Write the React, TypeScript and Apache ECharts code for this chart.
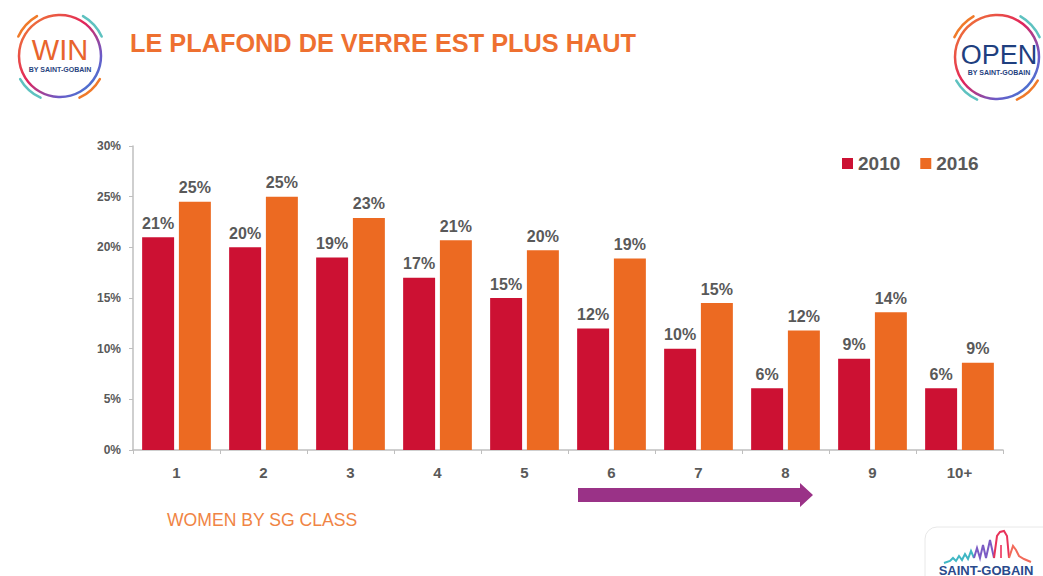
import React, { useEffect, useRef } from "react";
import * as echarts from "echarts";

const categories = ["1", "2", "3", "4", "5", "6", "7", "8", "9", "10+"];
const values2010 = [21, 20, 19, 17, 15, 12, 10, 6.1, 9, 6.1];
const values2016 = [24.5, 25, 22.9, 20.7, 19.7, 18.9, 14.5, 11.8, 13.6, 8.6];
const seriesNames = ["2010", "2016"];
const title = "LE PLAFOND DE VERRE EST PLUS HAUT";
const subtitle = "WOMEN BY SG CLASS";

const FONT = "'Liberation Sans', Arial, sans-serif";
const RED = "#CC1133";
const ORANGE = "#EC6A22";
const GRAY = "#595959";

function ringLogo(cx: number, cy: number, r: number) {
  const grad = new echarts.graphic.LinearGradient(0, 0, 1, 1, [
    { offset: 0, color: "#F28A2E" },
    { offset: 0.45, color: "#E2235A" },
    { offset: 0.75, color: "#6A5BC8" },
    { offset: 1, color: "#2C8AD8" },
  ]);
  const R = r + 5;
  const deg = Math.PI / 180;
  const outer = (a0: number, a1: number, color: string) => ({
    type: "arc",
    shape: { cx, cy, r: R, startAngle: a0 * deg, endAngle: a1 * deg, clockwise: true },
    style: { stroke: color, lineWidth: 2.5, fill: null, lineCap: "round" },
  });
  return [
    {
      type: "circle",
      shape: { cx, cy, r },
      style: { stroke: grad, lineWidth: 2.5, fill: null },
    },
    outer(205, 240, "#F07A2A"),
    outer(300, 335, "#5EC2C0"),
    outer(115, 150, "#5EC2C0"),
    outer(30, 65, "#F07A2A"),
  ];
}

export default function App() {
  const ref = useRef<HTMLDivElement>(null);
  useEffect(() => {
    if (!ref.current) return;
    const chart = echarts.init(ref.current, null, { renderer: "svg" });
    const labelCfg = {
      show: true,
      position: "top",
      distance: 6,
      color: GRAY,
      fontSize: 16,
      fontWeight: "bold",
      fontFamily: FONT,
      formatter: (p: any) => Math.round(p.value) + "%",
    };
    chart.setOption({
      animation: false,
      backgroundColor: "#ffffff",
      textStyle: { fontFamily: FONT },
      grid: { left: 133, right: 40, top: 146, bottom: 126, containLabel: false },
      legend: {
        data: seriesNames,
        left: 842,
        top: 154,
        padding: 0,
        icon: "rect",
        itemWidth: 11,
        itemHeight: 11,
        itemGap: 20,
        textStyle: { color: GRAY, fontSize: 19, fontWeight: "bold", fontFamily: FONT },
      },
      xAxis: {
        type: "category",
        data: categories,
        axisLine: { show: true, lineStyle: { color: "#BFBFBF", width: 1.5 } },
        axisTick: { show: true, interval: 0, length: 4, lineStyle: { color: "#BFBFBF" } },
        axisLabel: { color: GRAY, fontSize: 15, fontWeight: "bold", fontFamily: FONT, margin: 15, interval: 0 },
      },
      yAxis: {
        type: "value",
        min: 0,
        max: 30,
        interval: 5,
        axisLine: { show: true, lineStyle: { color: "#BFBFBF", width: 1.5 } },
        axisTick: { show: true, length: 4, lineStyle: { color: "#BFBFBF" } },
        splitLine: { show: false },
        axisLabel: { color: GRAY, fontSize: 12, fontWeight: "bold", fontFamily: FONT, margin: 12, formatter: "{value}%" },
      },
      series: [
        {
          name: seriesNames[0],
          type: "bar",
          data: values2010,
          barGap: "15%",
          barCategoryGap: "21%",
          itemStyle: { color: RED },
          label: labelCfg,
        },
        {
          name: seriesNames[1],
          type: "bar",
          data: values2016,
          barGap: "15%",
          barCategoryGap: "21%",
          itemStyle: { color: ORANGE },
          label: labelCfg,
        },
      ],
      graphic: [
        {
          type: "text",
          left: 130,
          top: 30,
          style: { text: title, fill: "#EE7030", font: `bold 25.3px ${FONT}` },
        },
        {
          type: "text",
          left: 167,
          top: 511,
          style: { text: subtitle, fill: "#F08444", font: `17.6px ${FONT}` },
        },
        {
          type: "polygon",
          shape: {
            points: [
              [578, 488],
              [800, 488],
              [800, 483],
              [813, 495],
              [800, 507],
              [800, 502],
              [578, 502],
            ],
          },
          style: { fill: "#9A3287" },
        },
        // WIN logo
        ...ringLogo(60, 56, 41),
        {
          type: "text",
          x: 60,
          y: 50,
          style: { text: "WIN", fill: "#E8642C", font: `29px ${FONT}`, align: "center", verticalAlign: "middle" },
        },
        {
          type: "text",
          x: 60,
          y: 69,
          style: { text: "BY SAINT-GOBAIN", fill: "#2A4480", font: `bold 7px ${FONT}`, align: "center", verticalAlign: "middle" },
        },
        // OPEN logo
        ...ringLogo(997, 57, 42),
        {
          type: "text",
          x: 999,
          y: 55,
          style: { text: "OPEN", fill: "#1F3F7F", font: `27px ${FONT}`, align: "center", verticalAlign: "middle" },
        },
        {
          type: "text",
          x: 999,
          y: 72,
          style: { text: "BY SAINT-GOBAIN", fill: "#1F3F7F", font: `bold 7px ${FONT}`, align: "center", verticalAlign: "middle" },
        },
        // Saint-Gobain logo
        {
          type: "rect",
          shape: { x: 925, y: 527, width: 140, height: 80, r: 12 },
          style: { fill: null, stroke: "#E8E8E8", lineWidth: 1 },
        },
        {
          type: "polyline",
          shape: {
            points: [
              [944, 563], [950, 561], [953, 558], [956, 561], [959, 556], [962, 560], [965, 554], [968, 559], [971, 551], [974, 558],
            ],
          },
          style: { stroke: "#3FB7C4", lineWidth: 2, fill: null },
        },
        {
          type: "polyline",
          shape: {
            points: [[974, 558], [977, 548], [980, 558], [983, 545], [986, 558], [990, 540], [994, 558]],
          },
          style: { stroke: "#7B5BC4", lineWidth: 2, fill: null },
        },
        {
          type: "polyline",
          shape: {
            points: [[994, 558], [997, 536], [1000, 532], [1004, 531], [1007, 536], [1009, 558]],
          },
          style: { stroke: "#E8335A", lineWidth: 2, fill: null },
        },
        {
          type: "polyline",
          shape: {
            points: [[1009, 558], [1013, 546], [1016, 550], [1019, 556], [1024, 559], [1031, 562]],
          },
          style: { stroke: "#F26A5A", lineWidth: 2, fill: null },
        },
        {
          type: "polyline",
          shape: { points: [[1001, 545], [1001, 558]] },
          style: { stroke: "#F05A7A", lineWidth: 2, fill: null },
        },
        {
          type: "text",
          x: 986,
          y: 570,
          style: { text: "SAINT-GOBAIN", fill: "#2A4A8C", font: `bold 13px ${FONT}`, align: "center", verticalAlign: "middle" },
        },
      ],
    });
    return () => chart.dispose();
  }, []);
  return (
    <div
      ref={ref}
      style={{ position: "fixed", left: 0, top: 0, width: 1043, height: 576 }}
    />
  );
}
